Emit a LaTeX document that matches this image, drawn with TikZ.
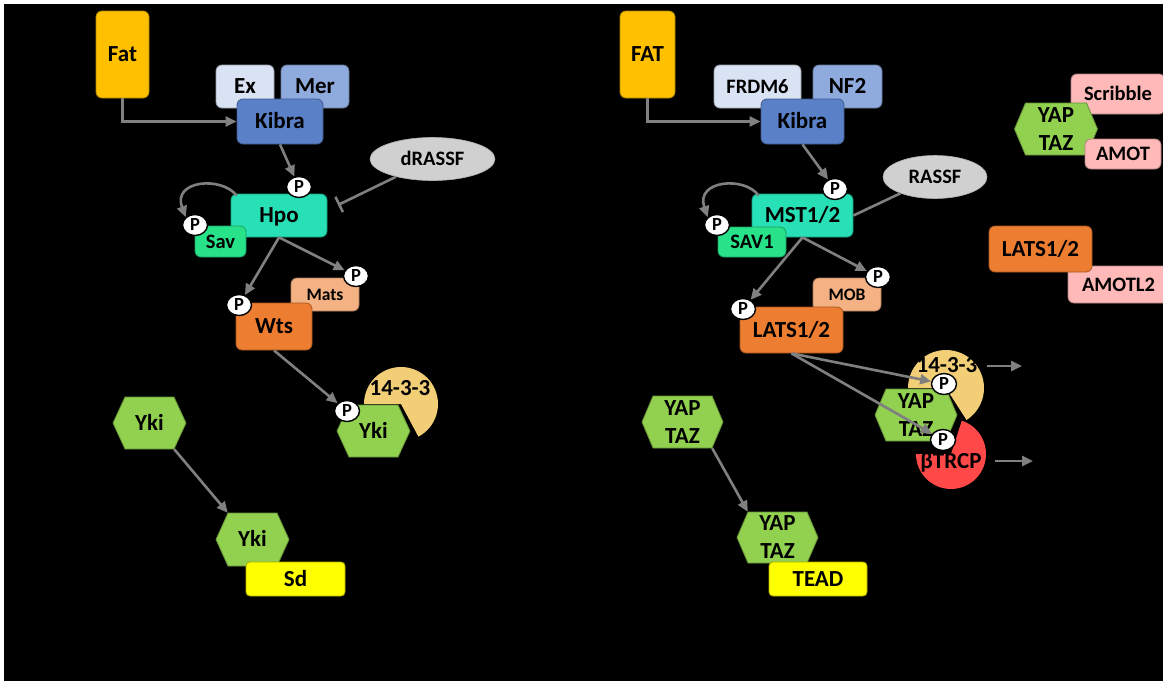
\documentclass[tikz,border=0pt]{standalone}
\usepackage{fontspec}
\setmainfont{Carlito}
\usetikzlibrary{arrows.meta,shapes.geometric}

\definecolor{fatc}{HTML}{FFC000}
\definecolor{exc}{HTML}{DAE3F3}
\definecolor{merc}{HTML}{8FAADC}
\definecolor{kibc}{HTML}{5A80C8}
\definecolor{hpoc}{HTML}{27E0B5}
\definecolor{savc}{HTML}{28E28A}
\definecolor{rassfc}{HTML}{D0D0D0}
\definecolor{matsc}{HTML}{F4B183}
\definecolor{wtsc}{HTML}{ED7D31}
\definecolor{pie1433}{HTML}{F2CF76}
\definecolor{ykic}{HTML}{92D050}
\definecolor{sdc}{HTML}{FFFF00}
\definecolor{btrc}{HTML}{FF4848}
\definecolor{pinkc}{HTML}{FFB9B9}
\definecolor{arrc}{HTML}{808080}

\newcommand\fntA{\bfseries\fontsize{23}{28}\selectfont}
\newcommand\fntB{\bfseries\fontsize{20.5}{24}\selectfont}
\newcommand\fntC{\bfseries\fontsize{17.5}{21}\selectfont}
\newcommand\fntP{\bfseries\fontsize{18.5}{21}\selectfont}

\tikzset{
  box/.style={rectangle, rounded corners=6pt, fill=#1, draw=#1!70!black,
    line width=0.8pt, inner sep=0pt, font=\fntA, text height=14.8pt, text depth=0pt},
  midtext/.style={font=\fntB, text height=13.2pt},
  smalltext/.style={font=\fntC, text height=11.3pt},
  oval/.style={ellipse, fill=#1, draw=#1!85!black, line width=0.6pt, inner sep=0pt,
    font=\fntB, text height=13.2pt, text depth=0pt},
  phos/.style={ellipse, fill=white, draw=black, line width=1.4pt, minimum width=25pt,
    minimum height=21pt, inner sep=0pt, font=\fntP, text height=11.9pt, text depth=0pt},
  hexlabel/.style={inner sep=0pt, font=\fntA, align=center},
  oneline/.style={text height=14.8pt, text depth=0pt},
  pielabel/.style={inner sep=0pt, font=\fntA, text height=14.8pt, text depth=0pt},
  arr/.style={draw=arrc, line width=2.6pt, -{Triangle[length=11pt,width=10pt]}},
  link/.style={draw=arrc, line width=2.6pt},
  inhib/.style={draw=arrc, line width=2.6pt, -{Bar[width=17pt]}},
}

% hexagon: name, cx, cy, half width, half height, inset of the flat edges, label
\newcommand\hexnode[8][]{%
  \path[fill=ykic, draw=ykic!70!black, line width=0.8pt]
    ({#3-#5},#4) -- ({#3-#5+#7},{#4-#6}) -- ({#3+#5-#7},{#4-#6})
    -- ({#3+#5},#4) -- ({#3+#5-#7},{#4+#6}) -- ({#3-#5+#7},{#4+#6}) -- cycle;
  \node[hexlabel, minimum width={2*(#5-#7)}, minimum height={2*#6}, #1] (#2) at (#3,#4) {#8};
}

\begin{document}
\begin{tikzpicture}[x=1pt, y=-1pt]
\fill[white] (0,0) rectangle (1163,681);
\fill[black] (4,4) rectangle (1163,681);
\useasboundingbox (0,0) rectangle (1163,681);

%%%%%%%%%%%% Drosophila pathway %%%%%%%%%%%%
\node[box=fatc, minimum width=53, minimum height=87] (fatL) at (122.5,54.5) {Fat};
\node[box=exc, minimum width=58, minimum height=43] (exL) at (245,86.5) {Ex};
\node[box=merc, minimum width=68, minimum height=43] (merL) at (315,86.5) {Mer};
\node[box=kibc, minimum width=86, minimum height=45] (kibL) at (280,121.5) {Kibra};
\node[oval=rassfc, minimum width=125, minimum height=43] (drassf) at (432.5,159) {dRASSF};
\node[box=hpoc, minimum width=96, minimum height=43] (hpo) at (279,215.5) {Hpo};
\node[box=savc, midtext, minimum width=51, minimum height=31] (sav) at (220.5,241.5) {Sav};
\node[box=matsc, smalltext, minimum width=68, minimum height=33] (mats) at (325,294.5) {Mats};
\node[box=wtsc, minimum width=76, minimum height=47] (wts) at (274,326.5) {Wts};

% 14-3-3 bound to phosphorylated Yki
\begin{scope}
  \clip (401,404) -- (301,404) -- (301,304) -- (501,304) -- (501,504) -- (448,492) -- cycle;
  \fill[pie1433] (401,404) circle[radius=37];
\end{scope}
\node[pielabel] (lbl1433L) at (400,388) {14-3-3};
\hexnode[oneline]{ykiP}{373.5}{431}{36.5}{26}{12}{Yki}

\hexnode[oneline]{ykiA}{149.5}{423}{36.5}{26}{12}{Yki}
\hexnode[oneline]{ykiB}{252.5}{539.5}{36.5}{26.5}{12}{Yki}
\node[box=sdc, rounded corners=4pt, minimum width=99, minimum height=34] (sd) at (295.5,579) {Sd};

\node[phos] (pHpo) at (299,187) {P};
\node[phos] (pSav) at (195,225) {P};
\node[phos] (pMats) at (356,276) {P};
\node[phos] (pWts) at (239,305) {P};
\node[phos] (pYki) at (347,411) {P};

\coordinate (inhL) at (338,205);
\draw[arr] (fatL.south) |- (kibL.west);
\draw[arr] (kibL.south) -- (pHpo);
\draw[arr] ([xshift=6pt,yshift=-2pt]hpo.north west) .. controls (222,176) and (172,180) .. (pSav.north west);
\draw[inhib] (drassf) -- (inhL);
\draw[arr] (hpo.south) -- (pWts);
\draw[arr] (hpo.south) -- (pMats);
\draw[arr] (wts.south) -- (pYki);
\draw[arr] (ykiA.south east) -- (ykiB.north west);

%%%%%%%%%%%% Mammalian pathway %%%%%%%%%%%%
\node[box=fatc, minimum width=55, minimum height=87] (fatR) at (647.5,54.5) {FAT};
\node[box=exc, midtext, minimum width=87, minimum height=43] (frdm) at (757.5,86.5) {FRDM6};
\node[box=merc, minimum width=69, minimum height=43] (nf2) at (847.5,86.5) {NF2};
\node[box=kibc, minimum width=83, minimum height=45] (kibR) at (802.5,121.5) {Kibra};
\node[oval=rassfc, minimum width=104, minimum height=43] (rassf) at (935,177) {RASSF};
\node[box=hpoc, minimum width=101, minimum height=43] (mst) at (802.5,215.5) {MST1/2};
\node[box=savc, midtext, minimum width=68, minimum height=30] (sav1) at (752,242) {SAV1};
\node[box=matsc, smalltext, minimum width=68, minimum height=33] (mob) at (847,294.5) {MOB};
\node[box=wtsc, minimum width=103, minimum height=46] (latsR) at (791.5,330) {LATS1/2};

% 14-3-3 and beta-TrCP bound to phosphorylated YAP/TAZ
\begin{scope}
  \clip (946,388) -- (846,388) -- (846,288) -- (1046,288) -- (1046,488) -- (1000.5,472.9) -- cycle;
  \fill[pie1433] (946,388) circle[radius=38];
\end{scope}
\begin{scope}
  \clip (951,454) -- (851,454) -- (851,554) -- (1051,554) -- (1051,354) -- (981.9,358.9) -- cycle;
  \fill[btrc] (951,454) circle[radius=35];
\end{scope}
\hexnode{yapP}{916}{415}{41}{26}{11}{YAP\\TAZ}
\node[pielabel] (lbl1433R) at (947,365) {14-3-3};
\node[pielabel] (lblBtr) at (951,461) {βTRCP};

\hexnode{yapA}{682.5}{422}{40.5}{26}{11}{YAP\\TAZ}
\hexnode{yapB}{777.5}{537.5}{40.5}{25.5}{11}{YAP\\TAZ}
\node[box=sdc, rounded corners=4pt, minimum width=98, minimum height=34] (tead) at (818,579) {TEAD};

\node[phos] (pMst) at (835,189) {P};
\node[phos] (pSav1) at (717,225) {P};
\node[phos] (pMob) at (878,277) {P};
\node[phos] (pLats) at (743,309) {P};

\coordinate (o1s) at (987,366);
\coordinate (o1e) at (1022,366);
\coordinate (o2s) at (995,461);
\coordinate (o2e) at (1033,461);

\draw[arr] (fatR.south) |- (kibR.west);
\draw[arr] (kibR.south) -- (pMst);
\draw[arr] ([xshift=7pt,yshift=-2pt]mst.north west) .. controls (745,176) and (695,180) .. (pSav1.north west);
\draw[link] (rassf) -- (mst.east);
\draw[arr] (mst.south) -- (pLats);
\draw[arr] (mst.south) -- (pMob);
\node[phos] (p1433) at (944,384) {P};
\node[phos] (pBtr) at (943,440) {P};
\draw[arr] (latsR.south) -- (p1433);
\draw[arr] (latsR.south) -- (pBtr);
\draw[arr] (yapA.south east) -- (yapB.north west);
\draw[arr] (o1s) -- (o1e);
\draw[arr] (o2s) -- (o2e);

% junction partners
\node[box=pinkc, midtext, minimum width=94, minimum height=40] (scrib) at (1118,94) {Scribble};
\hexnode{yapT}{1056}{129}{41.5}{26}{11}{YAP\\TAZ}
\node[box=pinkc, midtext, minimum width=76, minimum height=30] (amot) at (1123,154) {AMOT};
\node[box=pinkc, midtext, minimum width=101, minimum height=37] (amotl2) at (1118.5,284.5) {AMOTL2};
\node[box=wtsc, minimum width=103, minimum height=46] (latsT) at (1040.5,249) {LATS1/2};
\end{tikzpicture}
\end{document}
